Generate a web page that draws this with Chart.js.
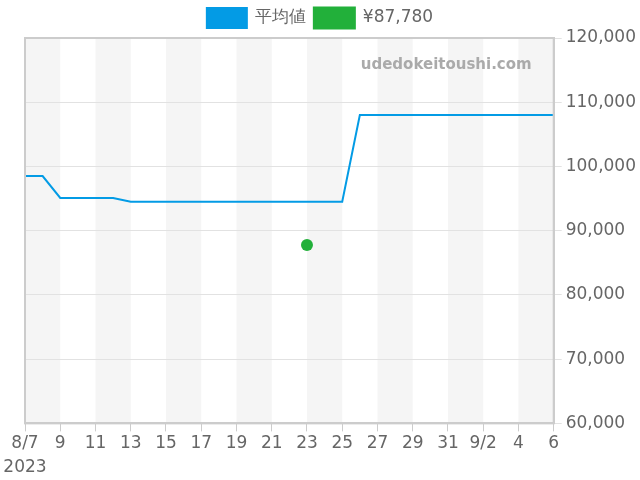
<!DOCTYPE html>
<html lang="ja">
<head>
  <meta charset="UTF-8">
  <title>価格推移</title>
  <script src="https://cdn.jsdelivr.net/npm/chart.js"></script>
  <style>
    body { margin: 0; background: #fff; }
    #wrap { width: 640px; height: 480px; }
  </style>
</head>
<body>
  <div id="wrap"><canvas id="grafico"></canvas></div>

  <script>
    // 日付 (8/7 〜 9/6)
    const dias = ['8/7','8/8','8/9','8/10','8/11','8/12','8/13','8/14','8/15','8/16','8/17','8/18','8/19','8/20','8/21','8/22','8/23','8/24','8/25','8/26','8/27','8/28','8/29','8/30','8/31','9/1','9/2','9/3','9/4','9/5','9/6'];
    const mediaValores = [98500, 98500, 95100, 95100, 95100, 95100,
      94500, 94500, 94500, 94500, 94500, 94500, 94500, 94500, 94500, 94500, 94500, 94500, 94500,
      108000, 108000, 108000, 108000, 108000, 108000, 108000, 108000, 108000, 108000, 108000, 108000];
    const precoDia = '8/23';
    const precoValor = 87780;
    const yTicks = [60000, 70000, 80000, 90000, 100000, 110000, 120000];

    Chart.defaults.font.family = "'DejaVu Sans', sans-serif";
    Chart.defaults.font.size = 17;
    Chart.defaults.color = '#666';

    // faixas cinza alternadas + borda
    const faixas = {
      id: 'faixas',
      beforeDraw(chart) {
        const { ctx, chartArea: a, scales: { x } } = chart;
        ctx.save();
        ctx.fillStyle = '#f5f5f5';
        for (let i = 0; i < dias.length - 1; i += 4) {
          const x1 = x.getPixelForValue(i);
          const x2 = x.getPixelForValue(Math.min(i + 2, dias.length - 1));
          ctx.fillRect(x1, a.top, x2 - x1, a.bottom - a.top);
        }
        ctx.restore();
      },
      afterDatasetsDraw(chart) {
        const { ctx, chartArea: a } = chart;
        ctx.save();
        ctx.strokeStyle = '#ccc';
        ctx.lineWidth = 2;
        ctx.strokeRect(a.left, a.top, a.right - a.left, a.bottom - a.top);
        ctx.font = "bold 15px 'DejaVu Sans', sans-serif";
        ctx.fillStyle = '#aaa';
        ctx.textAlign = 'right';
        ctx.textBaseline = 'middle';
        ctx.fillText('udedokeitoushi.com', a.right - 22, a.top + 27);
        ctx.restore();
      }
    };

    const ctx = document.getElementById('grafico').getContext('2d');
    new Chart(ctx, {
      type: 'line',
      data: {
        labels: dias,
        datasets: [{
          label: '平均値',
          data: mediaValores,
          borderColor: '#039be5',
          backgroundColor: '#039be5',
          borderWidth: 2,
          pointRadius: 0,
          tension: 0
        }, {
          label: '¥' + precoValor.toLocaleString('en-US'),
          data: [{ x: precoDia, y: precoValor }],
          showLine: false,
          borderColor: '#22b03a',
          backgroundColor: '#22b03a',
          pointRadius: 6,
          pointBorderWidth: 0
        }]
      },
      options: {
        responsive: true,
        maintainAspectRatio: false,
        animation: false,
        layout: { padding: 0 },
        plugins: {
          legend: {
            position: 'top',
            labels: { boxWidth: 40, boxHeight: 20, padding: 8, font: { size: 17 } }
          },
          tooltip: { enabled: false }
        },
        scales: {
          x: {
            offset: false,
            afterBuildTicks(scale) {
              scale.ticks = scale.ticks.filter((t, i) => i % 2 === 0);
            },
            afterFit(scale) {
              scale.paddingLeft = 25; // espaço do rótulo 8/7
            },
            ticks: {
              autoSkip: false,
              maxRotation: 0,
              padding: 0,
              font: { size: 17, lineHeight: 1.43 },
              callback(value) {
                const d = dias[value];
                if (value === 0) return [d, '2023'];
                const [m, dd] = d.split('/');
                const prev = value >= 2 ? dias[value - 2].split('/')[0] : m;
                return prev !== m ? d : dd;
              }
            },
            grid: { drawOnChartArea: false, color: '#ccc', tickLength: 8 },
            border: { color: '#ccc', width: 2 }
          },
          y: {
            position: 'right',
            min: 60000,
            max: 120000,
            afterBuildTicks(scale) {
              scale.ticks = yTicks.map(v => ({ value: v }));
            },
            ticks: {
              padding: 4,
              callback: v => v.toLocaleString('en-US')
            },
            grid: { color: '#e2e2e2', tickLength: 8 },
            border: { color: '#ccc', width: 2 }
          }
        }
      },
      plugins: [faixas]
    });
  </script>
</body>
</html>
